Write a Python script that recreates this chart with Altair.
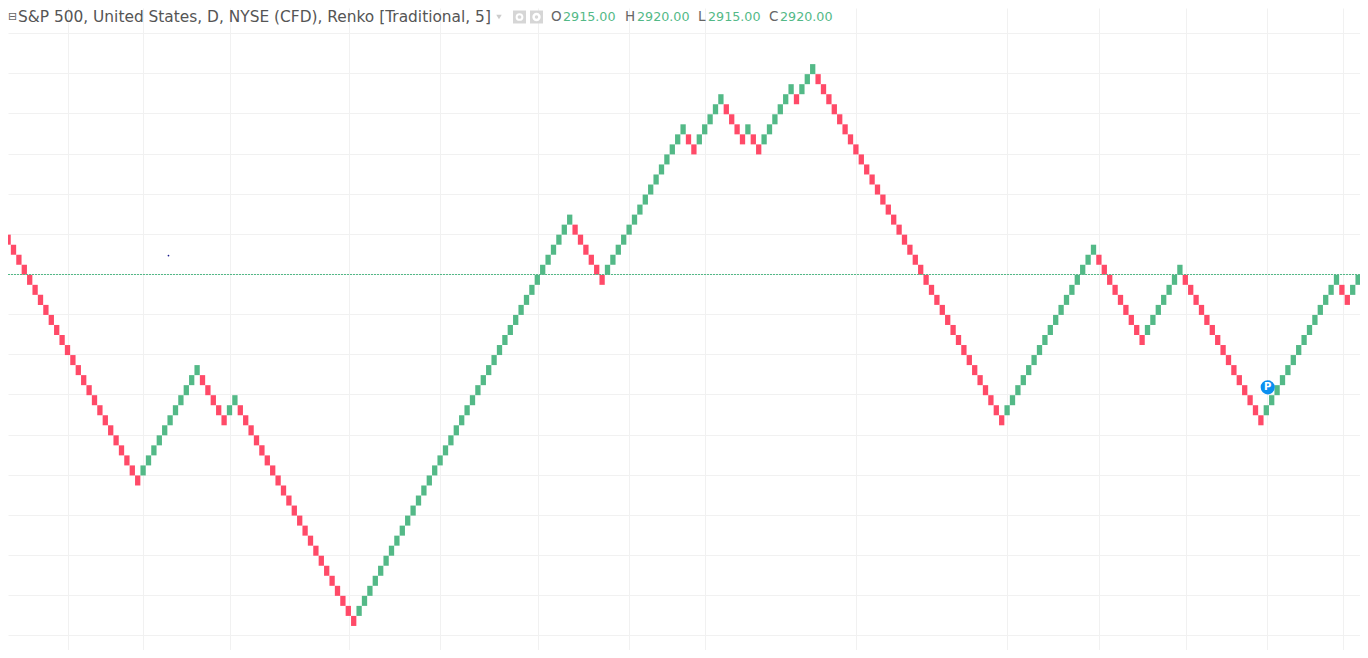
import altair as alt
import pandas as pd

brick_high = [
    2945,
    2940, 2935, 2930, 2925, 2920, 2915, 2910, 2905, 2900, 2895, 2890, 2885, 2880, 2875, 2870, 2865, 2860, 2855, 2850, 2845, 2840, 2835, 2830, 2825, 2820,
    2825, 2830, 2835, 2840, 2845, 2850, 2855, 2860, 2865, 2870, 2875,
    2870, 2865, 2860, 2855, 2850,
    2855, 2860,
    2855, 2850, 2845, 2840, 2835, 2830, 2825, 2820, 2815, 2810, 2805, 2800, 2795, 2790, 2785, 2780, 2775, 2770, 2765, 2760, 2755, 2750,
    2755, 2760, 2765, 2770, 2775, 2780, 2785, 2790, 2795, 2800, 2805, 2810, 2815, 2820, 2825, 2830, 2835, 2840, 2845, 2850,
    2855, 2860, 2865, 2870, 2875, 2880, 2885, 2890, 2895, 2900, 2905, 2910, 2915, 2920, 2925, 2930, 2935, 2940, 2945, 2950,
    2945, 2940, 2935, 2930, 2925, 2920,
    2925, 2930, 2935, 2940, 2945, 2950, 2955, 2960, 2965, 2970, 2975, 2980, 2985, 2990, 2995,
    2990, 2985,
    2990, 2995, 3000, 3005, 3010,
    3005, 3000, 2995, 2990,
    2995,
    2990, 2985,
    2990, 2995, 3000, 3005, 3010, 3015,
    3010,
    3015, 3020, 3025,
    3020, 3015, 3010, 3005, 3000, 2995, 2990, 2985, 2980, 2975, 2970, 2965, 2960, 2955, 2950, 2945, 2940, 2935, 2930, 2925, 2920, 2915, 2910, 2905, 2900, 2895, 2890, 2885, 2880, 2875, 2870, 2865, 2860, 2855, 2850,
    2855, 2860, 2865, 2870, 2875, 2880, 2885, 2890, 2895, 2900, 2905, 2910, 2915, 2920, 2925, 2930, 2935,
    2930, 2925, 2920, 2915, 2910, 2905, 2900, 2895, 2890,
    2895, 2900, 2905, 2910, 2915, 2920, 2925,
    2920, 2915, 2910, 2905, 2900, 2895, 2890, 2885, 2880, 2875, 2870, 2865, 2860, 2855, 2850,
    2855, 2860, 2865, 2870, 2875, 2880, 2885, 2890, 2895, 2900, 2905, 2910, 2915, 2920,
    2915, 2910,
    2915, 2920,
]
brick_size = 5
price_grid = list(range(2740, 3041, 20))
time_grid = [12.1, 26.0, 42.1, 64.1, 81.0, 99.1, 116.0, 130.1, 158.0, 186.0, 203.0, 219.1, 234.1, 248.2]
last_close = 2920

header_text = "S&P 500, United States, D, NYSE (CFD), Renko [Traditional, 5]"
ohlc_letters = ["O", "H", "L", "C"]
ohlc_values = ["2915.00", "2920.00", "2915.00", "2920.00"]
letter_px = [551, 625, 698, 769]
value_px = [563, 637, 708, 780]

GREEN = "#53b987"
RED = "#ff4a68"
GRID = "#f1f1f1"
W, H = 1352, 642
PX_PER_PRICE = 2.0065
PITCH = 5.4
x_scale = alt.Scale(domain=[(8 - 2.7) / PITCH, (8 + W - 2.7) / PITCH], nice=False, zero=False, padding=0)
y_scale = alt.Scale(domain=[2920 - (H - 266) / PX_PER_PRICE, 2920 + 266 / PX_PER_PRICE], nice=False, zero=False, padding=0)

bricks = pd.DataFrame({"i": range(len(brick_high)), "high": brick_high})
bricks["low"] = bricks["high"] - brick_size
bricks["up"] = [True] + [b > a for a, b in zip(brick_high, brick_high[1:])]

x_axis = alt.Axis(values=time_grid, grid=True, gridColor=GRID, domain=False, ticks=False, labels=False, title=None)
y_axis = alt.Axis(values=price_grid, grid=True, gridColor=GRID, domain=False, ticks=False, labels=False, title=None)


def X(field="i:Q"):
    return alt.X(field, scale=x_scale, axis=x_axis)


def Y(field="p:Q"):
    return alt.Y(field, scale=y_scale, axis=y_axis)


bars = alt.Chart(bricks).mark_bar(size=5.3, yOffset=0.8, y2Offset=0.8, clip=True).encode(
    x=X(),
    y=Y("high:Q"),
    y2="low:Q",
    color=alt.Color("up:N", scale=alt.Scale(domain=[True, False], range=[GREEN, RED]), legend=None),
)

last_line = alt.Chart(pd.DataFrame({"p": [last_close]})).mark_rule(
    color=GREEN, strokeWidth=1, strokeDash=[2, 1], yOffset=0.5
).encode(y=Y())

dot = alt.Chart(pd.DataFrame({"i": [30.7], "p": [2929.2]})).mark_circle(size=3, color="#1a1a8c", opacity=1).encode(
    x=X(), y=Y()
)

marker = pd.DataFrame({"i": [234.26], "p": [2863.5], "t": ["P"]})
p_circle = alt.Chart(marker).mark_circle(size=200, color="#0a8ff0", opacity=1).encode(x=X(), y=Y())
p_text = alt.Chart(marker).mark_text(font="DejaVu Sans", fontSize=10, fontWeight="bold", color="#ffffff").encode(
    x=X(), y=Y(), text="t:N"
)


def label(text, px, color, size):
    return alt.Chart(pd.DataFrame({"t": [text]})).mark_text(
        align="left", baseline="middle", font="DejaVu Sans", fontSize=size, color=color
    ).encode(x=alt.value(px - 8), y=alt.value(9), text="t:N")


def glyph(px, shape, size, color):
    return alt.Chart(pd.DataFrame({"t": ["icon"]})).mark_point(
        shape=shape, size=size, filled=True, color=color, opacity=1
    ).encode(x=alt.value(px - 8), y=alt.value(9))


texts = [label(header_text, 18, "#555555", 15.4)]
texts += [label(t, px, "#666666", 13.5) for t, px in zip(ohlc_letters, letter_px)]
texts += [label(t, px, GREEN, 12.7) for t, px in zip(ohlc_values, value_px)]
texts.append(label("\u229f", 8, "#666666", 11))

icons = [
    glyph(499, "triangle-down", 30, "#cccccc"),
    glyph(519.5, "square", 169, "#d6d6d6"),
    glyph(519.5, "circle", 60, "#ffffff"),
    glyph(519.5, "circle", 14, "#d6d6d6"),
    glyph(536.5, "square", 169, "#d6d6d6"),
    glyph(536.5, "circle", 70, "#ffffff"),
    glyph(536.5, "circle", 12, "#d6d6d6"),
]

chart = alt.layer(
    bars, last_line, dot, p_circle, p_text, *icons, *texts
).properties(
    width=W, height=H, padding=0, autosize=alt.AutoSizeParams(type="none"),
    background="#ffffff",
).configure_view(stroke=None)

chart.save("out.html", embed_options={"renderer": "svg", "actions": False})
